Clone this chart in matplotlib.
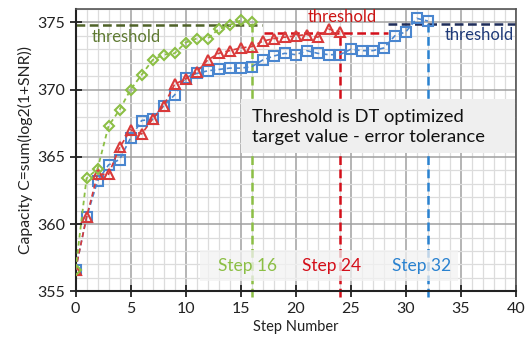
import matplotlib
matplotlib.use("Agg")
import matplotlib.pyplot as plt
from matplotlib.ticker import MultipleLocator
from matplotlib.patches import Rectangle

plt.rcParams['font.family'] = ['Lato', 'DejaVu Sans']

green_vals = [356.6, 363.4, 364.1, 367.3, 368.5, 370.0, 371.1, 372.2, 372.6, 372.7,
              373.5, 373.8, 373.8, 374.5, 374.8, 375.15, 375.0]
red_vals = [356.6, 360.5, 363.7, 363.7, 365.7, 367.0, 366.7, 367.8, 368.8, 370.4,
            370.8, 371.3, 372.2, 372.7, 372.9, 373.1, 373.2, 373.6, 373.8, 373.9,
            374.0, 374.1, 373.9, 374.5, 374.3]
blue_vals = [356.6, 360.5, 363.2, 364.4, 364.8, 366.4, 367.7, 367.8, 368.8, 369.6,
             370.9, 371.2, 371.4, 371.5, 371.6, 371.6, 371.7, 372.2, 372.5, 372.7,
             372.6, 372.9, 372.7, 372.6, 372.6, 373.0, 372.9, 372.9, 373.1, 374.0,
             374.3, 375.3, 375.1]
green_steps = list(range(len(green_vals)))
red_steps = list(range(len(red_vals)))
blue_steps = list(range(len(blue_vals)))

green_thr = 374.8
red_thr = 374.2
blue_thr = 374.9
stop_steps = [16, 24, 32]
stop_labels = ["Step 16", "Step 24", "Step 32"]
note_text = 'Threshold is DT optimized\ntarget value - error tolerance'

c_green = '#8cbf45'
c_red = '#d93a3a'
c_blue = '#4a86cf'
c_green_thr = '#4f6228'
c_red_thr = '#d40f1a'
c_blue_thr = '#1f2d5a'
c_blue_v = '#2a82d0'

fig = plt.figure(figsize=(5.27, 3.45), dpi=100)
ax = fig.add_axes([0.1433, 0.1557, 0.979 - 0.1433, 0.974 - 0.1557])
ax.set_xlim(0, 40)
ax.set_ylim(355, 376)
ax.xaxis.set_major_locator(MultipleLocator(5))
ax.xaxis.set_minor_locator(MultipleLocator(1))
ax.yaxis.set_major_locator(MultipleLocator(5))
ax.yaxis.set_minor_locator(MultipleLocator(1))
ax.grid(which='minor', color='#dcdcdc', linewidth=0.9)
ax.grid(which='major', color='#a0a0a0', linewidth=1.1)
ax.set_axisbelow(True)
ax.tick_params(which='major', direction='inout', length=8, width=1.3, color='#222222',
               labelsize=11.5, labelcolor='#222222')
ax.tick_params(which='minor', length=0)
for s in ['left', 'bottom']:
    ax.spines[s].set_color('#222222')
    ax.spines[s].set_linewidth(1.5)
for s in ['top', 'right']:
    ax.spines[s].set_color('#555555')
    ax.spines[s].set_linewidth(1.2)

ax.set_xlabel('Step Number', fontsize=10.5, color='#222222', labelpad=3)
ax.set_ylabel('Capacity C=sum(log2(1+SNR))', fontsize=11.3, color='#222222', labelpad=3)

dash = (0, (3.5, 1.8))
# threshold lines
ax.plot([0, 16.9], [green_thr, green_thr], color=c_green_thr, linestyle=dash, linewidth=1.8, zorder=2)
ax.plot([17.1, 28.4], [red_thr, red_thr], color=c_red_thr, linestyle=dash, linewidth=1.8, zorder=2)
ax.plot([28.4, 40], [blue_thr, blue_thr], color=c_blue_thr, linestyle=dash, linewidth=1.8, zorder=2)

# vertical stop lines
ax.plot([stop_steps[0]] * 2, [354.6, green_vals[-1]], color=c_green, linestyle=dash, linewidth=1.8, clip_on=False, zorder=2)
ax.plot([stop_steps[1]] * 2, [354.6, red_vals[-1]], color=c_red_thr, linestyle=dash, linewidth=1.8, clip_on=False, zorder=2)
ax.plot([stop_steps[2]] * 2, [354.6, blue_vals[-1]], color=c_blue_v, linestyle=dash, linewidth=1.8, clip_on=False, zorder=2)

# series
ax.plot(blue_steps, blue_vals, color=c_blue, linestyle=(0, (3, 2)), linewidth=1.2,
        marker='s', markersize=6.5, markerfacecolor='none', markeredgewidth=1.5,
        markeredgecolor=c_blue, zorder=3)
ax.plot(red_steps, red_vals, color=c_red, linestyle=(0, (3, 2)), linewidth=1.2,
        marker='^', markersize=7.5, markerfacecolor='none', markeredgewidth=1.5,
        markeredgecolor=c_red, zorder=4)
ax.plot(green_steps, green_vals, color=c_green, linestyle=(0, (2.5, 2)), linewidth=1.3,
        marker='D', markersize=5.5, markerfacecolor='none', markeredgewidth=1.5,
        markeredgecolor=c_green, zorder=5)

# threshold texts
ax.text(1.5, 373.95, 'threshold', color='#5f7a32', fontsize=12, ha='left', va='center', zorder=6)
ax.text(24.2, 375.4, 'threshold', color='#cc1414', fontsize=12, ha='center', va='center', zorder=6)
ax.text(39.8, 374.05, 'threshold', color='#1f3a78', fontsize=12, ha='right', va='center', zorder=6)

# step labels with translucent strip
ax.add_patch(Rectangle((11.3, 355.8), 23.4, 2.3, facecolor='#f2f2f2', edgecolor='none',
                       alpha=0.75, zorder=2.5))
stop_colors = [c_green, c_red_thr, c_blue_v]
stop_x = [15.6, 23.3, 31.4]
for sx, lab, col in zip(stop_x, stop_labels, stop_colors):
    ax.text(sx, 356.9, lab, color=col, fontsize=12.5, ha='center', va='center', zorder=2.6)

# note box
ax.add_patch(Rectangle((15.05, 365.25), 24.85, 4.06, facecolor='#efefef', edgecolor='none', zorder=5.5))
ax.text(16.0, 367.2, note_text, color='#111111', fontsize=13.2, ha='left', va='center',
        linespacing=1.3, zorder=6)

fig.savefig('out.png', dpi=100)
